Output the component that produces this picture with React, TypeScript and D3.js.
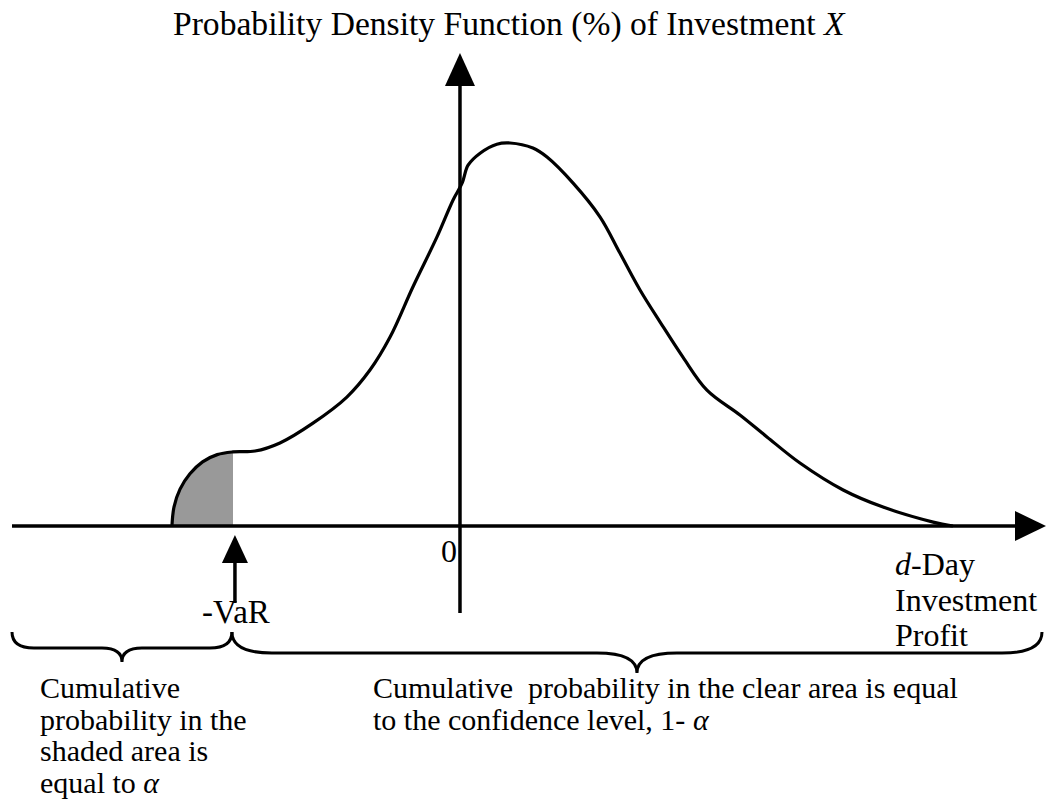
import React from "react";
import * as d3 from "d3";

// profit (x, arbitrary units) and density % (y)
const profit = [-9.6, -9.53, -9.33, -9.0, -8.58, -8.09, -7.57, -6.83, -6.0, -4.9, -3.77, -3.0, -2.33, -1.57, -0.77, -0.23, 0.07, 0.27, 0.67, 1.23, 1.67, 2.43, 2.9, 3.77, 4.67, 5.33, 6.0, 6.67, 7.43, 8.23, 9.33, 10.23, 11.33, 12.77, 14.1, 15.77, 16.43];
const density = [0, 0.64, 1.23, 1.74, 2.14, 2.38, 2.47, 2.5, 2.77, 3.43, 4.3, 5.2, 6.3, 7.97, 9.63, 10.87, 11.43, 12.03, 12.43, 12.73, 12.77, 12.6, 12.3, 11.43, 10.3, 9.1, 7.87, 6.8, 5.63, 4.53, 3.7, 2.97, 2.1, 1.2, 0.63, 0.13, 0];

const VaR = -7.5;
const xTicks = ["0"];
const xLabel = ["d-Day", "Investment", "Profit"];
const leftNote = ["Cumulative", "probability in the", "shaded area is", "equal to "];
const rightNote = ["Cumulative  probability in the clear area is equal", "to the confidence level, 1- "];

const W = 1051;
const H = 808;
const FONT = "'Liberation Serif', 'Times New Roman', serif";

const x = d3.scaleLinear().domain([-14.93, 19.53]).range([12, 1046]);
const y = d3.scaleLinear().domain([-2.9, 15.77]).range([613, 53]);

const pts: [number, number][] = profit.map((p, i) => [p, density[i]]);

const line = d3.line<[number, number]>()
    .x(d => x(d[0]))
    .y(d => y(d[1]))
    .curve(d3.curveCatmullRom.alpha(0.5));

const area = d3.area<[number, number]>()
    .x(d => x(d[0]))
    .y0(y(0))
    .y1(d => y(d[1]))
    .curve(d3.curveCatmullRom.alpha(0.5));

// horizontal curly brace opening downward
const brace = (x1: number, x2: number, top: number, mid: number, tip: number, r: number, r2: number) => {
    const m = (x1 + x2) / 2;
    return `M${x1},${top} Q${x1},${mid} ${x1 + r},${mid} L${m - r2},${mid} Q${m},${mid} ${m},${tip}` +
        ` Q${m},${mid} ${m + r2},${mid} L${x2 - r},${mid} Q${x2},${mid} ${x2},${top}`;
};

const App = () => {
    const x0 = x(0);
    const y0 = y(0);
    const xEnd = x.range()[1];
    const yTop = y.range()[1];
    const xv = x(VaR);
    return (
        <svg width={W} height={H} style={{ position: "absolute", left: 0, top: 0, background: "#fff" }} fontFamily={FONT}>
            <defs>
                <clipPath id="shade">
                    <rect x={x(profit[0]) - 2} y={0} width={xv - x(profit[0])} height={H} />
                </clipPath>
            </defs>

            {/* shaded tail */}
            <path d={area(pts) || ""} fill="#999999" clipPath="url(#shade)" />

            {/* x axis */}
            <line x1={x.range()[0]} x2={xEnd - 28} y1={y0} y2={y0} stroke="#000" strokeWidth={3.5} />
            <polygon points={`${xEnd},${y0} ${xEnd - 31},${y0 - 15} ${xEnd - 31},${y0 + 15}`} fill="#000" />

            {/* y axis */}
            <line x1={x0} x2={x0} y1={y.range()[0]} y2={yTop + 28} stroke="#000" strokeWidth={3.5} />
            <polygon points={`${x0},${yTop} ${x0 - 15},${yTop + 33} ${x0 + 15},${yTop + 33}`} fill="#000" />

            {/* density curve */}
            <path d={line(pts) || ""} fill="none" stroke="#000" strokeWidth={3.2} strokeLinejoin="round" />

            {/* -VaR arrow */}
            <line x1={xv} x2={xv} y1={y0 + 77} y2={y0 + 34} stroke="#000" strokeWidth={3.5} />
            <polygon points={`${xv},${y0 + 9} ${xv - 13},${y0 + 37} ${xv + 13},${y0 + 37}`} fill="#000" />

            {/* braces */}
            <path d={brace(x.range()[0], xv - 3, 632, 648, 662, 22, 20)} fill="none" stroke="#000" strokeWidth={3} />
            <path d={brace(xv - 3, 1042, 632, 653, 673, 40, 40)} fill="none" stroke="#000" strokeWidth={3} />

            {/* texts */}
            <text x={173} y={35} fontSize={33.6}>
                Probability Density Function (%) of Investment <tspan fontStyle="italic">X</tspan>
            </text>
            {xTicks.map(t => (
                <text key={t} x={x(+t) - 3} y={y0 + 36} fontSize={32} textAnchor="end">{t}</text>
            ))}
            <text x={202} y={623} fontSize={33}>-VaR</text>
            {xLabel.map((t, i) => (
                <text key={t} x={895} y={575 + i * 35.5} fontSize={32}>
                    {i === 0 ? <><tspan fontStyle="italic">d</tspan>-Day</> : t}
                </text>
            ))}
            {leftNote.map((t, i) => (
                <text key={t} x={40} y={698 + i * 31.7} fontSize={30} style={{ whiteSpace: "pre" }}>
                    {t}{i === leftNote.length - 1 ? <tspan fontStyle="italic">α</tspan> : null}
                </text>
            ))}
            {rightNote.map((t, i) => (
                <text key={t} x={373} y={698 + i * 31.7} fontSize={30} style={{ whiteSpace: "pre" }}>
                    {t}{i === rightNote.length - 1 ? <tspan fontStyle="italic">α</tspan> : null}
                </text>
            ))}
        </svg>
    );
};

export default App;
